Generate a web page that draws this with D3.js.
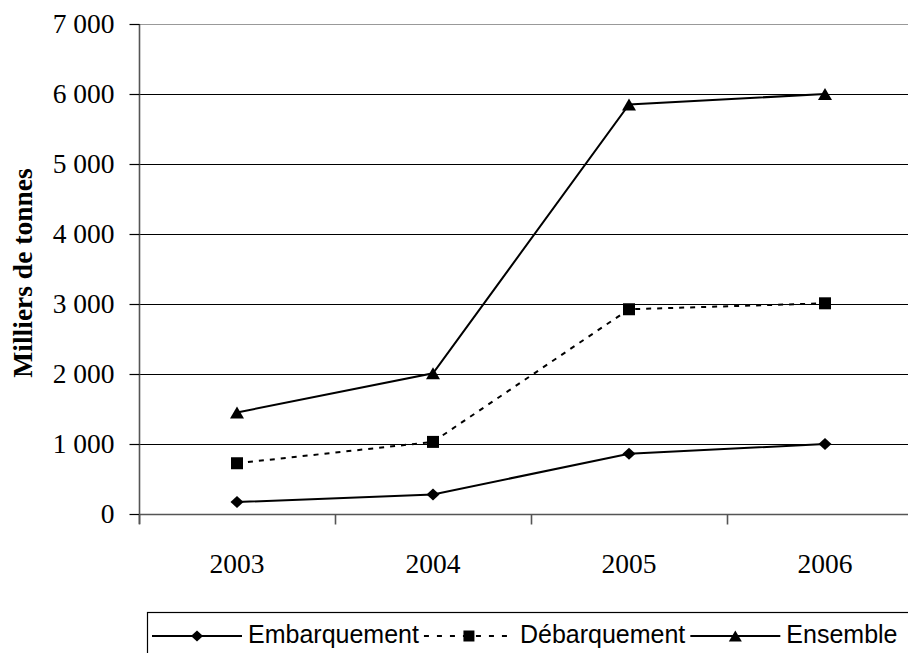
<!DOCTYPE html>
<html>
<head>
<meta charset="utf-8">
<script src="https://cdn.jsdelivr.net/npm/d3@7"></script>
<style>
  body { margin: 0; background: #fff; }
  svg { display: block; }
</style>
</head>
<body>
<div id="chart"></div>
<script>
var years = ["2003", "2004", "2005", "2006"],
    embarquement = [170, 280, 860, 1000],
    debarquement = [725, 1030, 2925, 3010],
    ensemble = [1450, 2010, 5850, 6000],
    yTicks = [0, 1000, 2000, 3000, 4000, 5000, 6000, 7000],
    seriesNames = ["Embarquement", "Débarquement", "Ensemble"];

var width = 908, height = 653;

var series = [
  {name: seriesNames[0], values: embarquement, dash: null, shape: "diamond"},
  {name: seriesNames[1], values: debarquement, dash: "5,6", shape: "square"},
  {name: seriesNames[2], values: ensemble, dash: null, shape: "triangle"}
];

var x = d3.scaleBand().domain(years).range([139, 923]).padding(0),
    y = d3.scaleLinear().domain([0, 7000]).range([514, 24]);

var svg = d3.select("#chart").append("svg")
  .attr("width", width)
  .attr("height", height);

// marker shapes, centred on 0,0
function shapePath(shape, s) {
  if (shape == "diamond") return "M0," + (-s) + "L" + (s + 0.5) + ",0L0," + s + "L" + (-s - 0.5) + ",0Z";
  if (shape == "square") return "M" + (-s) + "," + (-s) + "h" + (2 * s) + "v" + (2 * s) + "h" + (-2 * s) + "Z";
  return "M0," + (-s) + "L" + (s + 1) + "," + s + "L" + (-s - 1) + "," + s + "Z";
}

// gridlines
svg.append("g")
  .selectAll("line")
  .data(yTicks.filter(function(d) { return d > 0; }))
  .enter().append("line")
  .attr("x1", 139).attr("x2", width)
  .attr("y1", function(d) { return y(d) + 0.5; })
  .attr("y2", function(d) { return y(d) + 0.5; })
  .attr("stroke", function(d) { return d == 7000 ? "#999" : "#000"; })
  .attr("stroke-width", 1.2);

// y axis
var yAxis = svg.append("g")
  .attr("transform", "translate(139.5,0)")
  .call(d3.axisLeft(y).tickValues(yTicks).tickSize(10).tickPadding(15)
    .tickFormat(function(d) { return d3.format(",")(d).replace(",", "\u00a0"); }));
yAxis.select(".domain").attr("stroke", "#555").attr("stroke-width", 1.6)
  .attr("d", "M0,24V524");
yAxis.selectAll(".tick line").attr("stroke", "#000").attr("stroke-width", 1.2);
yAxis.selectAll(".tick text")
  .attr("font-family", "'Liberation Serif', 'Times New Roman', serif")
  .attr("font-size", 27.5).attr("fill", "#000");

// x axis with ticks between categories
var xAxis = svg.append("g")
  .attr("transform", "translate(0,514.5)");
xAxis.append("line")
  .attr("x1", 139).attr("x2", width)
  .attr("stroke", "#555").attr("stroke-width", 1.6);
xAxis.selectAll(".tk")
  .data(years)
  .enter().append("line")
  .attr("class", "tk")
  .attr("x1", function(d) { return x(d) + 0.5; })
  .attr("x2", function(d) { return x(d) + 0.5; })
  .attr("y1", 0).attr("y2", 10)
  .attr("stroke", "#555").attr("stroke-width", 1.6);
xAxis.selectAll("text")
  .data(years)
  .enter().append("text")
  .attr("x", function(d) { return x(d) + x.bandwidth() / 2; })
  .attr("y", 58)
  .attr("text-anchor", "middle")
  .attr("font-family", "'Liberation Serif', 'Times New Roman', serif")
  .attr("font-size", 27.5)
  .text(function(d) { return d; });

// y title
svg.append("text")
  .attr("transform", "translate(32,273) rotate(-90)")
  .attr("text-anchor", "middle")
  .attr("font-family", "'Liberation Serif', 'Times New Roman', serif")
  .attr("font-weight", "bold")
  .attr("font-size", 27.5)
  .text("Milliers de tonnes");

// lines + markers
var line = d3.line()
  .x(function(d, i) { return x(years[i]) + x.bandwidth() / 2; })
  .y(function(d) { return y(d); });

series.forEach(function(s) {
  svg.append("path")
    .attr("d", line(s.values))
    .attr("fill", "none")
    .attr("stroke", "#000")
    .attr("stroke-width", 2)
    .attr("stroke-dasharray", s.dash);

  svg.selectAll(null)
    .data(s.values)
    .enter().append("path")
    .attr("transform", function(d, i) {
      return "translate(" + (x(years[i]) + x.bandwidth() / 2) + "," + y(d) + ")";
    })
    .attr("d", shapePath(s.shape, 6))
    .attr("fill", "#000");
});

// legend
var legend = svg.append("g");
legend.append("rect")
  .attr("x", 147.5).attr("y", 612.5)
  .attr("width", 800).attr("height", 80)
  .attr("fill", "none").attr("stroke", "#000").attr("stroke-width", 1.2);

var lx = 152, ly = 636, lineLen = 90;
series.forEach(function(s) {
  legend.append("line")
    .attr("x1", lx).attr("x2", lx + lineLen)
    .attr("y1", ly).attr("y2", ly)
    .attr("stroke", "#000").attr("stroke-width", 1.8)
    .attr("stroke-dasharray", s.dash ? "5,8" : null);
  legend.append("path")
    .attr("transform", "translate(" + (lx + lineLen / 2) + "," + ly + ")")
    .attr("d", shapePath(s.shape, 5.5))
    .attr("fill", "#000");
  var t = legend.append("text")
    .attr("x", lx + lineLen + 6)
    .attr("y", 643)
    .attr("font-family", "'Liberation Sans', Arial, sans-serif")
    .attr("font-size", 25)
    .text(s.name);
  lx = lx + lineLen + 6 + t.node().getComputedTextLength() + 5;
});
</script>
</body>
</html>
